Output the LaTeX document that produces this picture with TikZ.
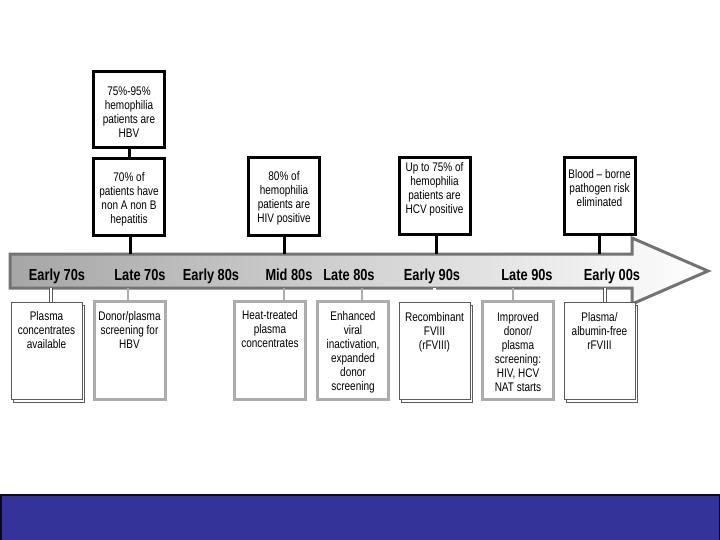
\documentclass[tikz,border=0pt]{standalone}
\usepackage{fontspec}
\setmainfont{Liberation Sans}
\newfontfamily\narrowfont[FakeStretch=0.8,Ligatures=TeX]{Liberation Sans}
\usetikzlibrary{shadows}
\definecolor{slideblue}{RGB}{51,51,153}
\definecolor{boxgray}{RGB}{172,172,172}
\definecolor{stackgray}{RGB}{90,90,90}
\newcommand{\boxfont}{\narrowfont\fontsize{12.5}{14}\selectfont}
\newcommand{\erafont}{\narrowfont\fontsize{16}{18}\selectfont\bfseries}
% box text: height, top gap, lines
\newcommand{\boxtxt}[3]{\parbox[c][#1][t]{71pt}{\centering\vspace*{#2}#3}}

\tikzset{
  topbox/.style={draw=black, line width=3pt, fill=white, inner sep=0pt, font=\boxfont},
  botbox/.style={draw=boxgray, line width=3pt, fill=white, inner sep=0pt, font=\boxfont},
  stackbox/.style={draw=stackgray, line width=.8pt, fill=white, inner sep=0pt, font=\boxfont,
    copy shadow={shadow xshift=2.5pt, shadow yshift=-3pt}},
  toplink/.style={draw=black, line width=3pt},
  graylink/.style={draw=boxgray, line width=2.5pt},
  stacklink/.style={draw=stackgray, line width=.7pt, double=white, double distance=2.4pt},
  era/.style={font=\erafont, anchor=base}
}

\begin{document}
\begin{tikzpicture}[x=1pt, y=-1pt]
  \useasboundingbox (0,0) rectangle (720,540);

  % time line arrow
  \draw[draw=gray!90!black, line width=3pt, left color=gray!70, right color=white, line join=miter]
    (10,254) -- (632,254) -- (632,238) -- (708,271) -- (632,304) -- (632,288) -- (10,288) -- cycle;
  \coordinate (bartop) at (0,254);
  \coordinate (barbot) at (0,288);

  % events above the line
  \node[topbox] (hbv) at (129,110) {\boxtxt{76pt}{15pt}{75\%-95\%\\hemophilia\\patients are\\HBV}};
  \node[topbox] (nanb) at (129,197) {\boxtxt{77pt}{14pt}{70\% of\\patients have\\non A non B\\hepatitis}};
  \node[topbox] (hiv) at (284,196.5) {\boxtxt{77pt}{13pt}{80\% of\\hemophilia\\patients are\\HIV positive}};
  \node[topbox] (hcv) at (434.5,196) {\boxtxt{77pt}{5pt}{Up to 75\% of\\hemophilia\\patients are\\HCV positive}};
  \node[topbox] (risk) at (599.5,196) {\boxtxt{77pt}{12pt}{Blood \textendash{} borne\\pathogen risk\\eliminated}};

  % treatments below the line
  \node[stackbox] (plasma) at (46.5,350.5) {\boxtxt{97pt}{9pt}{Plasma\\concentrates\\available}};
  \node[botbox] (donor) at (129.5,350) {\boxtxt{98pt}{10pt}{Donor/plasma\\screening for\\HBV}};
  \node[botbox] (heat) at (270,350) {\boxtxt{98pt}{9pt}{Heat-treated\\plasma\\concentrates}};
  \node[botbox] (viral) at (353,350) {\boxtxt{98pt}{10pt}{Enhanced\\viral\\inactivation,\\expanded\\donor\\screening}};
  \node[stackbox] (rfviii) at (434.5,351) {\boxtxt{97pt}{10pt}{Recombinant\\FVIII\\(rFVIII)}};
  \node[botbox] (nat) at (518,350.5) {\boxtxt{98pt}{11pt}{Improved\\donor/\\plasma\\screening:\\HIV, HCV\\NAT starts}};
  \node[stackbox] (albfree) at (599.5,351) {\boxtxt{97pt}{10pt}{Plasma/\\albumin-free\\rFVIII}};

  % links
  \draw[toplink] (hbv) -- (nanb);
  \draw[toplink] ([xshift=1pt]nanb.south) -- ([xshift=1pt]nanb.south |- bartop);
  \draw[toplink] (hiv.south) -- (hiv.south |- bartop);
  \draw[toplink] ([xshift=1.5pt]hcv.south) -- ([xshift=1.5pt]hcv.south |- bartop);
  \draw[toplink] (risk.south) -- (risk.south |- bartop);

  \draw[stacklink] ([xshift=4.5pt]plasma.north |- barbot) -- ([xshift=4.5pt]plasma.north);
  \draw[graylink] ([xshift=-1.5pt]donor.north |- barbot) -- ([xshift=-1.5pt]donor.north);
  \draw[graylink] ([xshift=14pt]heat.north |- barbot) -- ([xshift=14pt]heat.north);
  \draw[graylink] ([xshift=9pt]viral.north |- barbot) -- ([xshift=9pt]viral.north);
  \draw[stacklink] (rfviii.north |- barbot) -- (rfviii.north);
  \draw[graylink] ([xshift=-5pt]nat.north |- barbot) -- ([xshift=-5pt]nat.north);
  \draw[stacklink] ([xshift=5.5pt]albfree.north |- barbot) -- ([xshift=5.5pt]albfree.north);

  % eras
  \node[era] (e70) at (57,280) {Early 70s};
  \node[era] (l70) at (140,280) {Late 70s};
  \node[era] (e80) at (211,280) {Early 80s};
  \node[era] (m80) at (289,280) {Mid 80s};
  \node[era] (l80) at (349,280) {Late 80s};
  \node[era] (e90) at (432,280) {Early 90s};
  \node[era] (l90) at (527,280) {Late 90s};
  \node[era] (e00) at (612,280) {Early 00s};

  % footer band
  \draw[fill=slideblue, draw=black!80!slideblue, line width=1.5pt] (0.75,494.75) rectangle (719.25,541);
\end{tikzpicture}
\end{document}
